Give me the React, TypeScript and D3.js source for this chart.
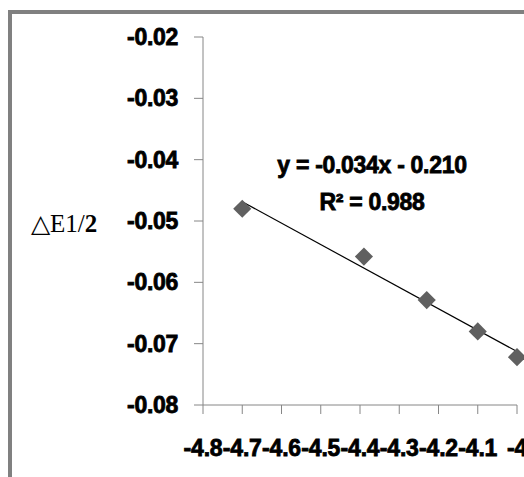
import React, { useRef, useEffect } from 'react';
import * as d3 from 'd3';

// values
const xValues = [-4.7, -4.39, -4.23, -4.1, -4.0];
const yValues = [-0.048, -0.0558, -0.0629, -0.068, -0.0722];
const xTicks = [-4.8, -4.7, -4.6, -4.5, -4.4, -4.3, -4.2, -4.1, -4.0];
const yTicks = [-0.02, -0.03, -0.04, -0.05, -0.06, -0.07, -0.08];
const trendLabels = ['y = -0.034x - 0.210', 'R² = 0.988'];
const yTitle = '△E1/';
const yTitleEnd = '2';

const App = () => {
  const svgRef = useRef<SVGSVGElement>(null);

  useEffect(() => {
    const width = 524;
    const height = 477;
    const boldFont = '"Liberation Sans", Arial, sans-serif';

    const svg = d3.select(svgRef.current)
      .attr('width', width)
      .attr('height', height);
    svg.selectAll('*').remove();

    // outer chart frame (cut off right and bottom)
    svg.append('rect')
      .attr('x', 10)
      .attr('y', 12)
      .attr('width', 600)
      .attr('height', 600)
      .attr('fill', 'white')
      .attr('stroke', '#808080')
      .attr('stroke-width', 4);

    const x = d3.scaleLinear().domain([-4.8, -4.0]).range([203, 517]);
    const y = d3.scaleLinear().domain([-0.08, -0.02]).range([405, 37]);

    const boldText = (sel: any, size: number) => sel
      .attr('font-family', boldFont)
      .attr('font-weight', 'bold')
      .attr('font-size', `${size}px`)
      .attr('fill', 'black')
      .attr('stroke', 'black')
      .attr('stroke-width', 0.8);

    // y axis
    const yAxis = svg.append('g');
    yAxis.append('line')
      .attr('x1', x(-4.8)).attr('x2', x(-4.8))
      .attr('y1', y(-0.02)).attr('y2', y(-0.08))
      .attr('stroke', '#868686');
    yAxis.selectAll('line.tick')
      .data(yTicks)
      .enter()
      .append('line')
      .attr('class', 'tick')
      .attr('x1', x(-4.8) - 9).attr('x2', x(-4.8))
      .attr('y1', d => y(d)).attr('y2', d => y(d))
      .attr('stroke', '#868686');
    boldText(yAxis.selectAll('text')
      .data(yTicks)
      .enter()
      .append('text')
      .attr('x', 178)
      .attr('y', d => y(d) + 8)
      .attr('text-anchor', 'end'), 23)
      .attr('letter-spacing', '-0.3px')
      .text(d => d.toFixed(2));

    // x axis
    const xAxis = svg.append('g');
    xAxis.append('line')
      .attr('x1', x(-4.8)).attr('x2', x(-4.0))
      .attr('y1', y(-0.08)).attr('y2', y(-0.08))
      .attr('stroke', '#868686');
    xAxis.selectAll('line.tick')
      .data(xTicks)
      .enter()
      .append('line')
      .attr('class', 'tick')
      .attr('x1', d => x(d)).attr('x2', d => x(d))
      .attr('y1', y(-0.08)).attr('y2', y(-0.08) + 9)
      .attr('stroke', '#868686');
    boldText(xAxis.selectAll('text')
      .data(xTicks)
      .enter()
      .append('text')
      .attr('x', d => x(d))
      .attr('y', 456)
      .attr('text-anchor', 'middle'), 23)
      .attr('letter-spacing', '-0.2px')
      .text(d => String(+d.toFixed(1)));

    // axis title
    const title = svg.append('text')
      .attr('x', 31)
      .attr('y', 232)
      .attr('font-family', '"Liberation Serif", "Times New Roman", serif')
      .attr('font-size', '25px')
      .attr('fill', 'black');
    title.append('tspan').text(yTitle);
    title.append('tspan').attr('font-weight', 'bold').text(yTitleEnd);

    // least squares trendline over the data range
    const mx = d3.mean(xValues) as number;
    const my = d3.mean(yValues) as number;
    const sxy = d3.sum(xValues, (v, i) => (v - mx) * (yValues[i] - my));
    const sxx = d3.sum(xValues, v => (v - mx) * (v - mx));
    const slope = sxy / sxx;
    const intercept = my - slope * mx;
    const [x0, x1] = d3.extent(xValues) as [number, number];
    const line = d3.line<number>()
      .x(d => x(d))
      .y(d => y(slope * d + intercept));
    svg.append('path')
      .attr('d', line([x0, x1]))
      .attr('fill', 'none')
      .attr('stroke', 'black')
      .attr('stroke-width', 1.2);

    // markers
    const diamond = d3.symbol().type(d3.symbolDiamond2).size(210);
    svg.selectAll('path.pt')
      .data(xValues)
      .enter()
      .append('path')
      .attr('class', 'pt')
      .attr('d', diamond)
      .attr('transform', (d, i) => `translate(${x(d)}, ${y(yValues[i])})`)
      .attr('fill', '#606060');

    // trendline equation
    boldText(svg.selectAll('text.eq')
      .data(trendLabels)
      .enter()
      .append('text')
      .attr('class', 'eq')
      .attr('x', 372)
      .attr('y', (d, i) => 173 + i * 37)
      .attr('text-anchor', 'middle'), 23)
      .attr('letter-spacing', '-0.3px')
      .text(d => d);
  }, []);

  return <svg ref={svgRef} style={{ position: 'absolute', left: 0, top: 0 }}></svg>;
};

export default App;
